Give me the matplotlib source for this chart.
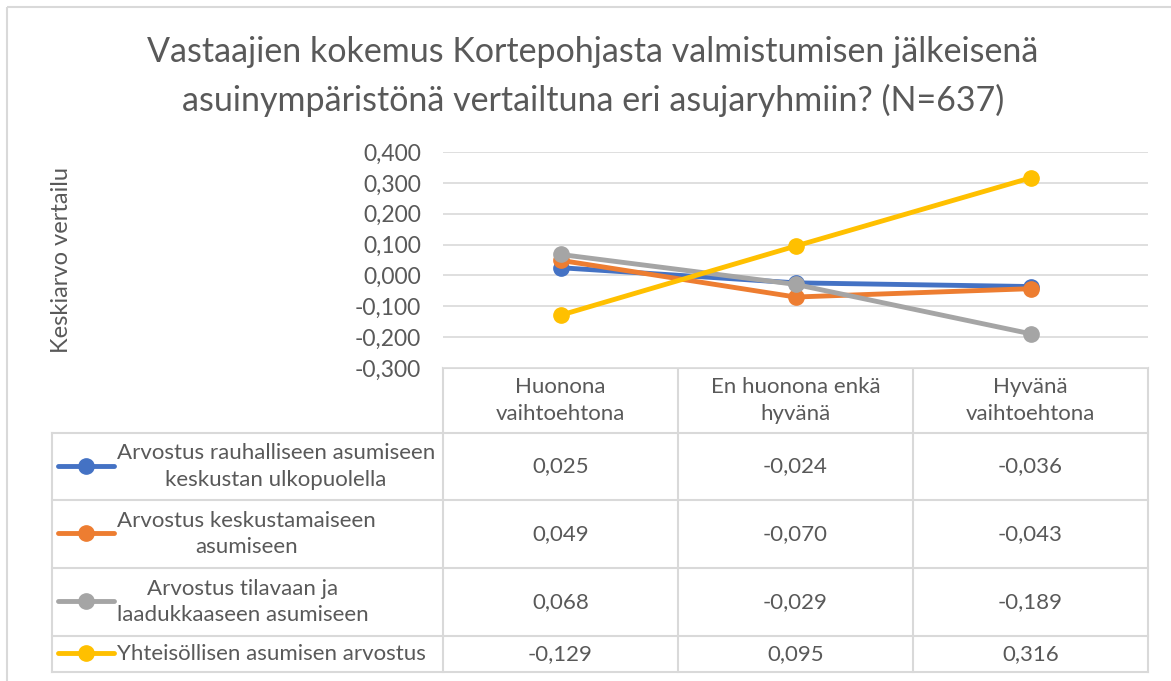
import matplotlib
matplotlib.use("Agg")
import matplotlib.pyplot as plt
from matplotlib.patches import Rectangle
from matplotlib.lines import Line2D

plt.rcParams['font.family'] = ['Lato', 'DejaVu Sans']

# data
categories = ["Huonona\nvaihtoehtona", "En huonona enkä\nhyvänä", "Hyvänä\nvaihtoehtona"]
series_names = ["Arvostus rauhalliseen asumiseen\nkeskustan ulkopuolella",
                "Arvostus keskustamaiseen\nasumiseen",
                "Arvostus tilavaan ja\nlaadukkaaseen asumiseen",
                "Yhteisöllisen asumisen arvostus"]
rauhallinen = [0.025, -0.024, -0.036]
keskustamainen = [0.049, -0.070, -0.043]
tilava = [0.068, -0.029, -0.189]
yhteisollinen = [-0.129, 0.095, 0.316]
values = [rauhallinen, keskustamainen, tilava, yhteisollinen]
colors = ["#4472C4", "#ED7D31", "#A5A5A5", "#FFC000"]
yticks = [-0.3, -0.2, -0.1, 0.0, 0.1, 0.2, 0.3, 0.4]

txt = "#595959"
grid = "#D9D9D9"
W, H = 1171, 681
fs = 16

fig = plt.figure(figsize=(W / 100, H / 100), dpi=100)

# plot area in pixels
px_l, px_r, px_t, px_b = 443, 1148, 152, 368
ax = fig.add_axes([px_l / W, 1 - px_b / H, (px_r - px_l) / W, (px_b - px_t) / H])
x = range(len(categories))
for vals, c in zip(values, colors):
    ax.plot(x, vals, color=c, lw=3.5, marker='o', markersize=11, solid_capstyle='round')
ax.set_xlim(-0.5, len(categories) - 0.5)
ax.set_ylim(-0.3, 0.4)
ax.set_yticks(yticks)
ax.set_yticklabels([("%.3f" % v).replace(".", ",") for v in yticks], fontsize=16.5, color=txt)
ax.set_xticks([])
ax.tick_params(axis='y', length=0, pad=16)
ax.grid(axis='y', color=grid, lw=1.2)
ax.set_axisbelow(True)
for s in ax.spines.values():
    s.set_visible(False)

# overlay in pixel coords for the table, title etc.
ov = fig.add_axes([0, 0, 1, 1], zorder=-1)
ov.set_xlim(0, W)
ov.set_ylim(H, 0)
ov.axis('off')
ov.add_patch(Rectangle((7, 7), W + 10, H + 10, fill=False, ec=grid, lw=1.5))

ov.text(593, 52, "Vastaajien kokemus Kortepohjasta valmistumisen jälkeisenä",
        ha='center', va='center', fontsize=24.5, color=txt)
ov.text(593, 100, "asuinympäristönä vertailtuna eri asujaryhmiin? (N=637)",
        ha='center', va='center', fontsize=24.5, color=txt)
ov.text(62, 260, "Keskiarvo vertailu", rotation=90, ha='center', va='center',
        fontsize=17, color=txt)

# data table under the plot
tab_l = 52
rows = [368, 433, 500, 568, 636, 672]
ncol = len(categories)
colw = (px_r - px_l) / ncol
col_edges = [px_l + i * colw for i in range(ncol + 1)]

lw = 1.5
ov.plot([px_l, px_r], [rows[0], rows[0]], color=grid, lw=lw)
for xe in col_edges:
    ov.plot([xe, xe], [rows[0], rows[-1]], color=grid, lw=lw)
ov.plot([tab_l, tab_l], [rows[1], rows[-1]], color=grid, lw=lw)
for ry in rows[1:]:
    ov.plot([tab_l, px_r], [ry, ry], color=grid, lw=lw)

for j, cat in enumerate(categories):
    ov.text(px_l + (j + 0.5) * colw, (rows[0] + rows[1]) / 2, cat, ha='center', va='center',
            fontsize=fs, color=txt, linespacing=1.4)

for i, (name, vals, c) in enumerate(zip(series_names, values, colors)):
    yc = (rows[i + 1] + rows[i + 2]) / 2
    ov.add_line(Line2D([58, 114], [yc - 1, yc - 1], color=c, lw=3.5, solid_capstyle='round'))
    ov.plot([86], [yc - 1], marker='o', markersize=11, color=c)
    ov.text(117, yc, name, ha='left', va='center', multialignment='center',
            fontsize=fs, color=txt, linespacing=1.4)
    for j, v in enumerate(vals):
        ov.text(px_l + (j + 0.5) * colw, yc, ("%.3f" % v).replace(".", ","),
                ha='center', va='center', fontsize=fs, color=txt)

fig.savefig("out.png", dpi=100)
